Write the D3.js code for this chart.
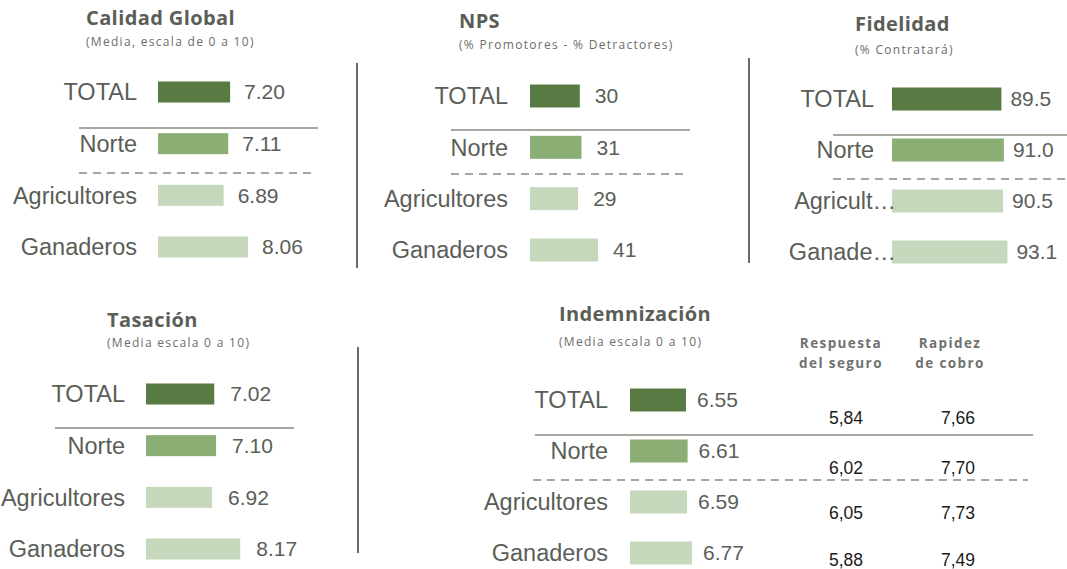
<!DOCTYPE html>
<html>
<head>
<meta charset="utf-8">
<script src="https://cdn.jsdelivr.net/npm/d3@7"></script>
<style>
  html, body { margin: 0; padding: 0; background: #ffffff; }
  svg { display: block; }
</style>
</head>
<body>
<svg id="chart" width="1067" height="569"></svg>
<script>
// ---------- DATA ----------
const categories = ["TOTAL", "Norte", "Agricultores", "Ganaderos"];
const fidelidadLabels = ["TOTAL", "Norte", "Agricult…", "Ganade…"];
const calidadGlobal = [7.20, 7.11, 6.89, 8.06];
const nps = [30, 31, 29, 41];
const fidelidad = [89.5, 91.0, 90.5, 93.1];
const tasacion = [7.02, 7.10, 6.92, 8.17];
const indemnizacion = [6.55, 6.61, 6.59, 6.77];
const respuestaSeguro = [5.84, 6.02, 6.05, 5.88];
const rapidezCobro = [7.66, 7.70, 7.73, 7.49];
const tableHeaders = [["Respuesta", "del seguro"], ["Rapidez", "de cobro"]];

// ---------- STYLE ----------
const barColors = ["#587a43", "#8aae74", "#c5d8bb", "#c5d8bb"];
const textColor = "#5a5e57";
const subColor = "#6b6d69";
const sepColor = "#a5a89f";
const labelFont = "'Liberation Sans', Arial, sans-serif";
const titleFont = "'Open Sans', Lato, sans-serif";

const svg = d3.select("#chart");

// panel layout configs
const panels = [
  { title: "Calidad Global", subtitle: "(Media, escala de 0 a 10)", tx: 86, ty: 25, sy: 46,
    values: calidadGlobal, labels: categories, fmt: d3.format(".2f"),
    domain: [3.75, 8.5], x0: 158, pxPerUnit: 20.9, rows: [92, 247], barH: 21, labelX: 137, valGap: 14,
    solid: [79, 318, 128], dashed: [79, 313, 173] },
  { title: "NPS", subtitle: "(% Promotores - % Detractores)", tx: 459, ty: 28, sy: 49,
    values: nps, labels: categories, fmt: d3.format("d"),
    domain: [0, 50], x0: 530, pxPerUnit: 1.66, rows: [96, 250], barH: 23, labelX: 508, valGap: 15,
    solid: [451, 690, 130], dashed: [451, 685, 174] },
  { title: "Fidelidad", subtitle: "(% Contratará)", tx: 855, ty: 31, sy: 54,
    values: fidelidad, labels: fidelidadLabels, fmt: d3.format(".1f"),
    domain: [24, 94], x0: 892, pxPerUnit: 1.67, rows: [99, 252], barH: 23, labelX: 874, valGap: 9,
    solid: [833, 1067, 135], dashed: [833, 1067, 179] },
  { title: "Tasación", subtitle: "(Media  escala 0 a 10)", tx: 107, ty: 327, sy: 347,
    values: tasacion, labels: categories, fmt: d3.format(".2f"),
    domain: [4, 8.5], x0: 146, pxPerUnit: 22.6, rows: [394, 549], barH: 21, labelX: 125, valGap: 16,
    solid: [55, 294, 428], dashed: null },
  { title: "Indemnización", subtitle: "(Media  escala 0 a 10)", tx: 559, ty: 321, sy: 346,
    values: indemnizacion, labels: categories, fmt: d3.format(".2f"),
    domain: [4.5, 7], x0: 630, pxPerUnit: 27.3, rows: [400, 553], barH: 23, labelX: 608, valGap: 11,
    solid: [535, 1033, 435], dashed: [533, 1028, 480] }
];

panels.forEach(p => {
  const g = svg.append("g");
  const x = d3.scaleLinear().domain(p.domain)
    .range([p.x0, p.x0 + p.pxPerUnit * (p.domain[1] - p.domain[0])]);
  const y = d3.scalePoint().domain(d3.range(p.values.length)).range(p.rows);

  // title + subtitle
  g.append("text").attr("x", p.tx).attr("y", p.ty)
    .attr("font-family", titleFont).attr("font-weight", 700).attr("font-size", 20)
    .attr("letter-spacing", 0.4)
    .attr("fill", textColor).text(p.title);
  g.append("text").attr("x", p.tx).attr("y", p.sy)
    .attr("font-family", titleFont).attr("font-size", 12).attr("letter-spacing", 1.3)
    .attr("fill", subColor).text(p.subtitle);

  // separators
  g.append("line").attr("x1", p.solid[0]).attr("x2", p.solid[1])
    .attr("y1", p.solid[2]).attr("y2", p.solid[2])
    .attr("stroke", sepColor).attr("stroke-width", 2);
  if (p.dashed) {
    g.append("line").attr("x1", p.dashed[0]).attr("x2", p.dashed[1])
      .attr("y1", p.dashed[2]).attr("y2", p.dashed[2])
      .attr("stroke", sepColor).attr("stroke-width", 2).attr("stroke-dasharray", "8,6");
  }

  const rows = g.selectAll("g.row").data(p.values).join("g").attr("class", "row");
  rows.append("rect")
    .attr("x", x(p.domain[0]))
    .attr("y", (d, i) => y(i) - p.barH / 2)
    .attr("width", d => x(d) - x(p.domain[0]))
    .attr("height", p.barH)
    .attr("fill", (d, i) => barColors[i]);
  rows.append("text")
    .attr("x", (d, i) => p.labels[i].endsWith("…") ? x(p.domain[0]) + 4 : p.labelX)
    .attr("y", (d, i) => y(i))
    .attr("dy", "0.35em")
    .attr("text-anchor", "end")
    .attr("font-family", labelFont).attr("font-size", 23.5)
    .attr("fill", textColor)
    .text((d, i) => p.labels[i]);
  rows.append("text")
    .attr("x", d => x(d) + p.valGap)
    .attr("y", (d, i) => y(i))
    .attr("dy", "0.35em")
    .attr("font-family", labelFont).attr("font-size", 21)
    .attr("fill", textColor)
    .text(d => p.fmt(d));
});

// vertical dividers
const dividers = [[357, 63, 268], [749, 58, 263], [358, 347, 553]];
svg.selectAll("line.div").data(dividers).join("line").attr("class", "div")
  .attr("x1", d => d[0]).attr("x2", d => d[0])
  .attr("y1", d => d[1]).attr("y2", d => d[2])
  .attr("stroke", "#6b6b6b").attr("stroke-width", 2);

// indemnización sub-table
const colX = d3.scalePoint().domain([0, 1]).range([841, 950]);
const tableY = [418, 468, 513, 560];
const commaFmt = v => d3.format(".2f")(v).replace(".", ",");
tableHeaders.forEach((lines, c) => {
  lines.forEach((t, k) => {
    svg.append("text").attr("x", colX(c)).attr("y", 348 + k * 20)
      .attr("text-anchor", "middle")
      .attr("font-family", titleFont).attr("font-weight", 700).attr("font-size", 13.5)
      .attr("letter-spacing", 1.4)
      .attr("fill", "#707270").text(t);
  });
});
[respuestaSeguro, rapidezCobro].forEach((col, c) => {
  svg.selectAll(null).data(col).join("text")
    .attr("x", colX(c) + (c === 0 ? 5 : 8))
    .attr("y", (d, i) => tableY[i])
    .attr("dy", "0.35em")
    .attr("text-anchor", "middle")
    .attr("font-family", labelFont).attr("font-size", 17.5)
    .attr("fill", "#1a1a1a")
    .text(d => commaFmt(d));
});
</script>
</body>
</html>
